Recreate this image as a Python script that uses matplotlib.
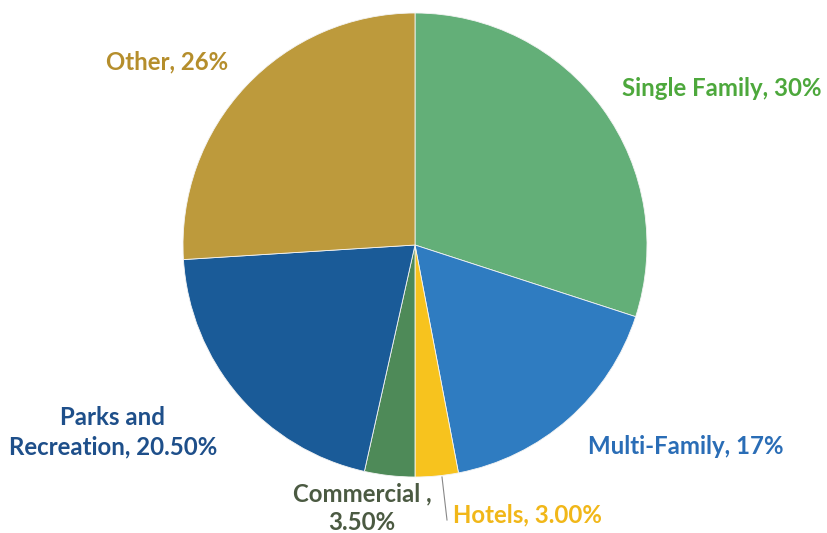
import matplotlib
matplotlib.use("Agg")
import matplotlib.pyplot as plt

categories = ["Single Family", "Multi-Family", "Hotels", "Commercial", "Parks and Recreation", "Other"]
values = [30, 17, 3.0, 3.5, 20.5, 26]
label_texts = ["Single Family, 30%", "Multi-Family, 17%", "Hotels, 3.00%",
               "Commercial ,\n3.50%", "Parks and\nRecreation, 20.50%", "Other, 26%"]
slice_colors = ["#63AF78", "#2F7CC1", "#F7C31E", "#4E8A58", "#1A5B98", "#BD9A3C"]
label_colors = ["#4DA83C", "#2A6DB6", "#F1B719", "#4B5A42", "#1E4F8A", "#B58E2C"]

W, H = 827, 533
fig = plt.figure(figsize=(W / 100, H / 100), dpi=100)
ax = fig.add_axes([0, 0, 1, 1])

cx, cy, r = 415, H - 245, 232
ax.pie(values, colors=slice_colors, startangle=90, counterclock=False,
       center=(cx, cy), radius=r, frame=True,
       wedgeprops=dict(linewidth=0.6, edgecolor="#f4f4f4"))
ax.set_xlim(0, W)
ax.set_ylim(0, H)
ax.set_aspect("equal")
ax.axis("off")

pos = [(722, 88), (686, 446), (527, 515), (362, 508), (113, 432), (167, 62)]
font = dict(family=["Lato", "DejaVu Sans"], fontweight="bold", fontsize=17.3)
for (x, y), t, c in zip(pos, label_texts, label_colors):
    ax.text(x, H - y, t, color=c, ha="center", va="center", linespacing=1.32, **font)

# leader line for Hotels
ax.plot([442, 447], [H - 477, H - 520], color="#888888", lw=0.8)

fig.savefig("out.png", dpi=100)
